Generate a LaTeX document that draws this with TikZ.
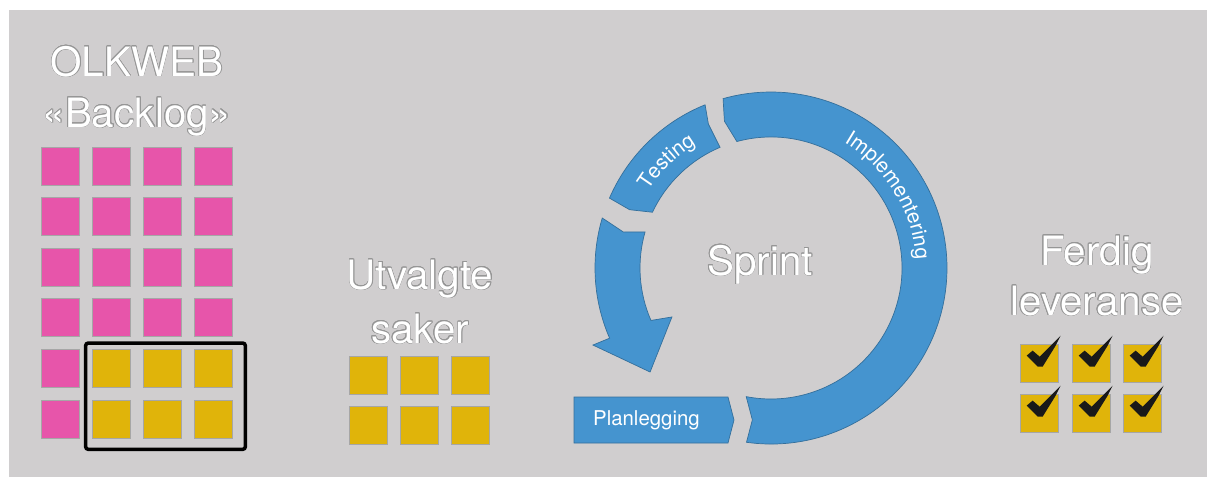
\documentclass[tikz,border=0pt]{standalone}
\usepackage{fontspec}
\setmainfont{TeX Gyre Heros}
\usepackage{contour}
\contourlength{0.3pt}
\usetikzlibrary{calc,decorations.text}

\definecolor{bggray}{RGB}{208,206,207}
\definecolor{ringblue}{RGB}{69,148,207}
\definecolor{cardpink}{RGB}{231,85,170}
\definecolor{cardyellow}{RGB}{224,180,10}
\definecolor{outlinegray}{RGB}{150,150,150}

\begin{document}
\begin{tikzpicture}[x=0.02cm, y=-0.02cm,
	card/.style={draw=black!35, line width=0.4pt, fill=#1, minimum size=0.76cm, inner sep=0pt},
	title/.style={text=white, anchor=base, font=\fontsize{23}{28}\selectfont},
	band/.style={fill=ringblue, draw=black!25!ringblue, line width=0.4pt}]
	\useasboundingbox (0,0) rectangle (1215,480);
	\fill[white] (0,0) rectangle (1215,480);
	\fill[bggray] (9,10) rectangle (1207,477);

	% backlog
	\node [title] (olkweb)  at (137,76)  {\contour{outlinegray}{OLKWEB}};
	\node [title] (backlog) at (137,127) {\contour{outlinegray}{«Backlog»}};
	\foreach \j in {0,...,3}
		\foreach \i in {0,...,3}
			\node [card=cardpink] (b-\i-\j) at ({60+51*\i},{166+50.6*\j}) {};
	\foreach \j in {4,5} {
		\node [card=cardpink] (b-0-\j) at (60,{166+50.6*\j}) {};
		\foreach \i in {1,2,3}
			\node [card=cardyellow] (b-\i-\j) at ({60+51*\i},{166+50.6*\j}) {};
	}
	\draw [line width=2pt, rounded corners=1.5pt] ($(b-1-4.north west)+(-6,-6)$) rectangle ($(b-3-5.south east)+(13,11)$);

	% utvalgte saker
	\node [title] (utvalgte) at (420,289) {\contour{outlinegray}{Utvalgte}};
	\node [title] (saker)    at (420,343) {\contour{outlinegray}{saker}};
	\foreach \i/\x in {1/368,2/419,3/470}
		\foreach \j/\y in {1/375,2/425}
			\node [card=cardyellow] (u-\i-\j) at (\x,\y) {};

	% sprint
	\coordinate (C) at (771,268);
	\path [band] ($(C)+(98:176)$) arc [start angle=98, end angle=-105.8, radius=176]
		-- ($(C)+(-107.6:154)$) -- ($(C)+(-105.1:131)$)
		arc [start angle=-105.1, end angle=100.9, radius=131]
		-- ($(C)+(97:153)$) -- cycle;
	\path [band] ($(C)+(248:176)$) arc [start angle=248, end angle=203.4, radius=176]
		-- ($(C)+(202.4:153)$) -- ($(C)+(205.2:131)$)
		arc [start angle=205.2, end angle=247.1, radius=131]
		-- ($(C)+(246.5:157)$) -- cycle;
	\path [band] ($(C)+(196.5:176)$) arc [start angle=196.5, end angle=156.5, radius=176]
		-- ($(C)+(156.6:194)$) -- ($(C)+(139.3:159.5)$) -- ($(C)+(153.7:110.5)$)
		-- ($(C)+(156.4:131)$) arc [start angle=156.4, end angle=196, radius=131]
		-- ($(C)+(193.7:152)$) -- cycle;
	\path [band] (574,397) -- (728,397) -- (734,420) -- (728,443) -- (574,443) -- cycle;
	\node [text=white, anchor=west, font=\fontsize{11.6}{13}\selectfont] (plan) at (587,420) {Planlegging};
	\path [decorate, decoration={text along path, text align=center,
		text={|\color{white}\fontsize{11.8}{13}\selectfont|Implementering}}]
		($(C)+(-61:145)$) arc [start angle=-61, end angle=-2, radius=145];
	\path [decorate, decoration={text along path, text align=center,
		text={|\color{white}\fontsize{11.8}{13}\selectfont|Testing}}]
		($(C)+(204:145)$) arc [start angle=204, end angle=247, radius=145];
	\node [title] (sprint) at (760,275) {\contour{outlinegray}{Sprint}};

	% ferdig leveranse
	\node [title] (ferdig)    at (1097,265) {\contour{outlinegray}{Ferdig}};
	\node [title] (leveranse) at (1097,315) {\contour{outlinegray}{leveranse}};
	\foreach \i/\x in {1/1039,2/1091,3/1142}
		\foreach \j/\y in {1/363,2/413} {
			\node [card=cardyellow] (f-\i-\j) at (\x,\y) {};
			\fill [black!90, shift={(f-\i-\j.north west)}] (7,12) -- (13,7) -- (20,13) -- (41,-8)
				-- (36,2) -- (23,23) -- (18,23) -- cycle;
		}
\end{tikzpicture}
\end{document}
